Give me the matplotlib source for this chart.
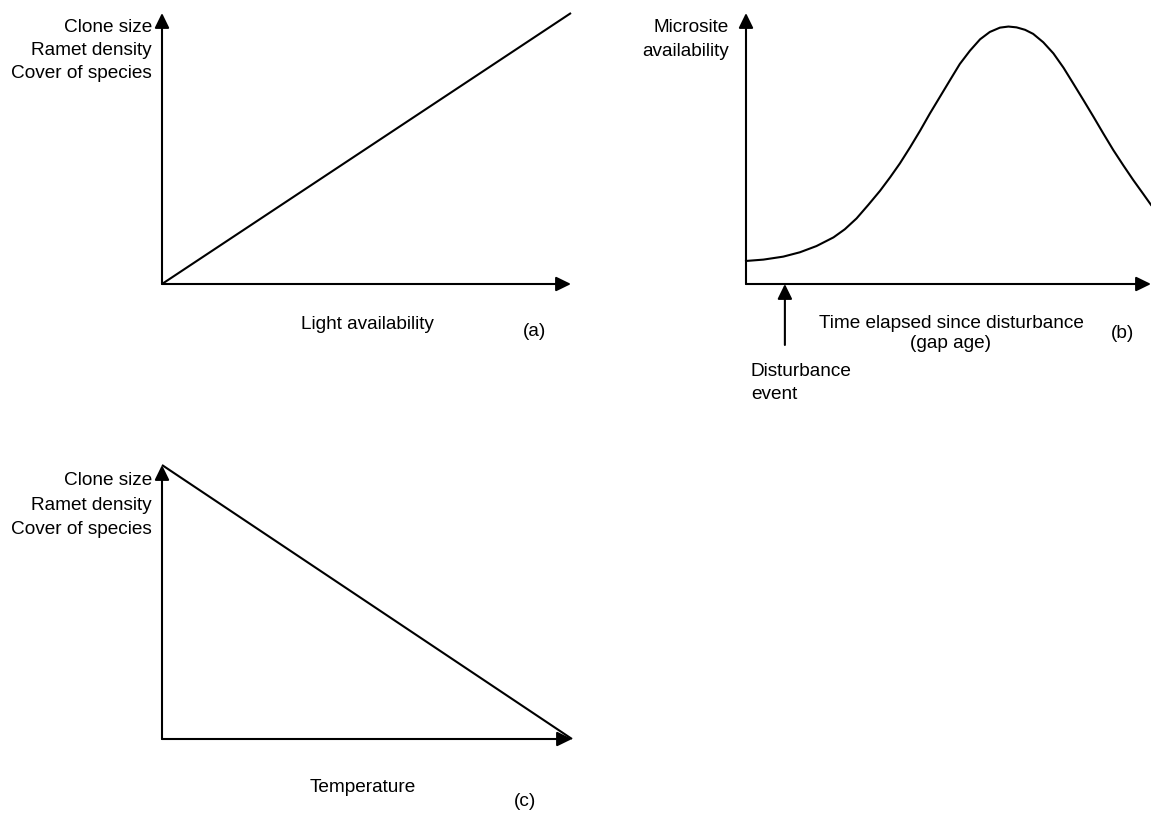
import matplotlib
matplotlib.use("Agg")
import matplotlib.pyplot as plt

plt.rcParams['font.family'] = ['Liberation Sans', 'DejaVu Sans']

W, H = 1151, 814
FS = 13.7

# panel (a): response rises with light
light_x = [0.0, 1.0]
light_y = [0.0, 1.0]

# panel (c): response falls with temperature
temp_x = [0.0, 1.0]
temp_y = [1.0, 0.0]

# panel (b): microsite availability against gap age
gap_age = [0.0, 0.043, 0.092, 0.133, 0.174, 0.216, 0.244, 0.273, 0.302, 0.331,
           0.356, 0.380, 0.405, 0.430, 0.454, 0.479, 0.504, 0.528, 0.553, 0.578,
           0.602, 0.627, 0.648, 0.668, 0.689, 0.709, 0.734, 0.759, 0.784, 0.808,
           0.833, 0.858, 0.882, 0.907, 0.932, 0.956, 0.981, 1.0]
microsite = [0.085, 0.090, 0.101, 0.117, 0.140, 0.172, 0.202, 0.242, 0.292, 0.344,
             0.394, 0.445, 0.504, 0.566, 0.629, 0.691, 0.753, 0.812, 0.861, 0.903,
             0.930, 0.946, 0.950, 0.947, 0.938, 0.923, 0.892, 0.851, 0.798, 0.740,
             0.679, 0.617, 0.556, 0.494, 0.437, 0.384, 0.332, 0.292]
disturbance_at = 0.096

response_labels = ["Clone size", "Ramet density", "Cover of species"]


def px_axes(fig, left, top, right, bottom):
    # axes placed from pixel box of the reference
    ax = fig.add_axes([left / W, 1 - bottom / H, (right - left) / W, (bottom - top) / H])
    ax.set_xlim(0, 1)
    ax.set_ylim(0, 1)
    ax.axis('off')
    return ax


def arrow(ax, start, end):
    ax.annotate("", xy=end, xytext=start, xycoords='data', textcoords='data',
                annotation_clip=False,
                arrowprops=dict(arrowstyle='-|>,head_length=0.45,head_width=0.22',
                                color='black', lw=1.5, shrinkA=0, shrinkB=0,
                                mutation_scale=20))


def draw_axes(ax):
    arrow(ax, (0, 0), (1, 0))
    arrow(ax, (0, 0), (0, 1))


def label(fig, x, y, s, ha='center'):
    fig.text(x / W, 1 - y / H, s, ha=ha, va='baseline', fontsize=FS, color='black')


fig = plt.figure(figsize=(W / 100, H / 100), dpi=100)

# (a)
ax_a = px_axes(fig, 162, 13, 571, 284)
draw_axes(ax_a)
ax_a.plot(light_x, light_y, color='black', lw=1.5, clip_on=False, solid_capstyle='butt')
for s, yb in zip(response_labels, [31.5, 55, 78.5]):
    label(fig, 152, yb, s, ha='right')
label(fig, 367, 329, "Light availability")
label(fig, 535, 336, "(a)")

# (b)
ax_b = px_axes(fig, 746, 13, 1151, 284)
draw_axes(ax_b)
ax_b.plot(gap_age, microsite, color='black', lw=1.5, clip_on=False,
          solid_joinstyle='round')
arrow(ax_b, (disturbance_at, -0.225), (disturbance_at, 0))
label(fig, 729, 32, "Microsite", ha='right')
label(fig, 729, 56, "availability", ha='right')
label(fig, 951, 328, "Time elapsed since disturbance")
label(fig, 951, 348, "(gap age)")
label(fig, 1122, 338, "(b)")
label(fig, 751, 376, "Disturbance", ha='left')
label(fig, 751, 399, "event", ha='left')

# (c)
ax_c = px_axes(fig, 162, 465, 572, 739)
draw_axes(ax_c)
ax_c.plot(temp_x, temp_y, color='black', lw=1.5, clip_on=False, solid_capstyle='butt')
for s, yb in zip(response_labels, [485, 510, 534]):
    label(fig, 152, yb, s, ha='right')
label(fig, 363, 792, "Temperature")
label(fig, 525, 806, "(c)")

fig.savefig("out.png", dpi=100, facecolor='white')
